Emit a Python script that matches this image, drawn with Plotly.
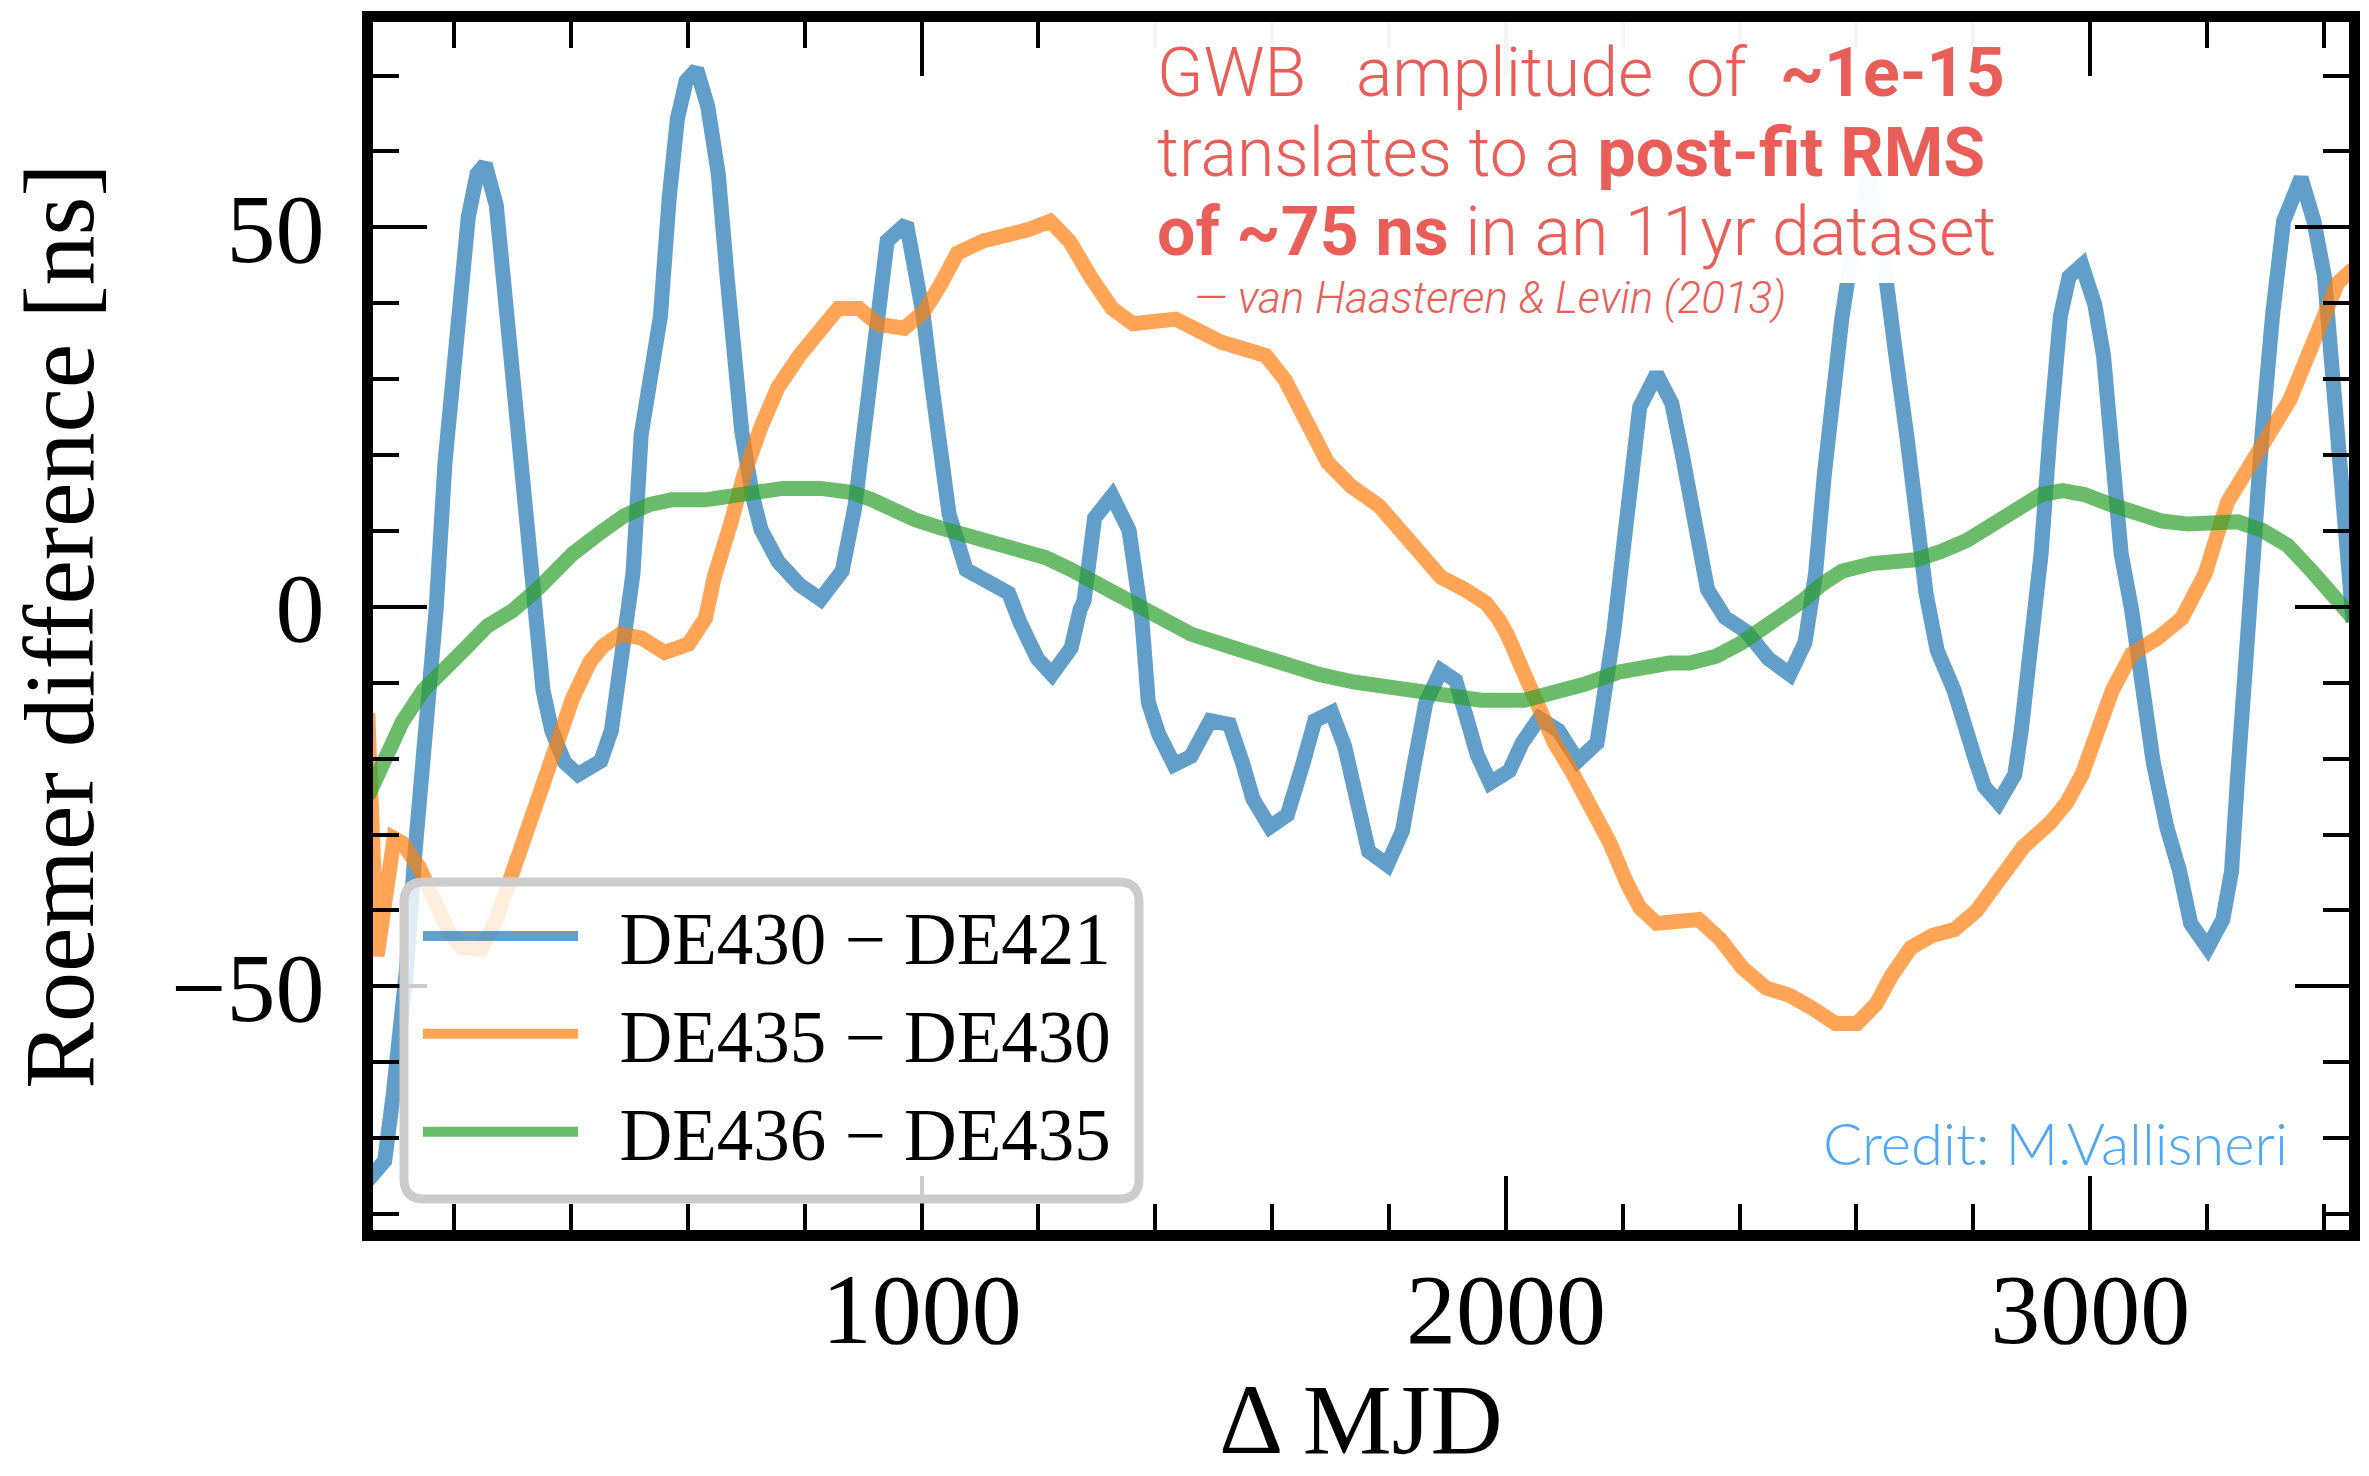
import plotly.graph_objects as go

# ---------------- data ----------------
blue_x = [52, 81, 96, 118, 133, 147, 158, 169, 184, 200, 213, 224, 239, 253, 272, 286, 301, 323, 336,
          352, 367, 389, 412, 451, 469, 484, 498, 506, 520, 542, 553, 568, 582, 597, 615, 634, 652, 667,
          681, 692, 710, 725, 754, 791, 827, 864, 886, 908, 926, 941, 974, 988, 1003, 1018, 1032, 1047,
          1076, 1113, 1149, 1168, 1198, 1223, 1256, 1271, 1278, 1296, 1326, 1355, 1377, 1388, 1406, 1432,
          1461, 1494, 1527, 1549, 1567, 1596, 1626, 1651, 1673, 1702, 1724, 1746, 1765, 1797, 1823, 1841,
          1863, 1889, 1914, 1933, 1951, 1973, 2006, 2028, 2057, 2090, 2123, 2156, 2171, 2185, 2200, 2214,
          2229, 2258, 2284, 2302, 2330, 2345, 2375, 2412, 2449, 2486, 2512, 2530, 2545, 2560, 2575, 2590,
          2606, 2621, 2636, 2650, 2665, 2686, 2701, 2719, 2738, 2767, 2805, 2819, 2843, 2871, 2882, 2894,
          2905, 2916, 2931, 2949, 2964, 2986, 3008, 3023, 3038, 3053, 3071, 3090, 3108, 3131, 3153, 3172,
          3201, 3227, 3242, 3253, 3264, 3279, 3294, 3312, 3331, 3361, 3383, 3401, 3420, 3435, 3450]
blue_y = [-75.6, -73, -64, -48, -32.2, -21.6, -8.4, -0.4, 18.8, 32, 43.5, 51.3, 57, 58.3, 52.9, 40.9, 30.5,
          12.2, 1, -11, -16.3, -20.5, -22.1, -20.3, -16.3, -8.4, -0.4, 4.4, 22.7, 34.1, 38.3, 53.9, 64.3,
          69.3, 70.8, 65.9, 57, 43.5, 33.1, 23.2, 14.8, 10.2, 6, 2.9, 1, 4.7, 13.3, 27.9, 40.9, 48.2, 50.5,
          44.5, 38.3, 28.9, 20, 12.2, 4.9, 3.4, 1.8, -2, -6.8, -8.9, -5.4, -0.4, 0.8, 11.7, 14.6, 10.1,
          -1.7, -12.6, -16.8, -20.8, -19.7, -15, -15.5, -20.5, -25.3, -29, -27.4, -21.1, -15, -13.9, -18.4,
          -25.8, -32.2, -34, -29.5, -21.6, -12.6, -8.4, -9.7, -14.7, -19.5, -23.2, -21.6, -17.9, -14.7,
          -16.3, -20.3, -17.9, -11, -3.1, 7, 17.4, 26.3, 30.7, 26.8, 20, 9.6, 2.3, -1.4, -3.3, -6.8, -8.9,
          -4.7, 4.4, 17.4, 30.5, 38, 45.5, 53, 57, 52, 42.5, 34.5, 22.6, 12.2, 1.8, -5.7, -11, -20.5,
          -23.7, -25.8, -22.1, -16.3, -8.4, -0.4, 7, 22.6, 38.3, 43.5, 45, 39.8, 33, 20, 7, -0.4, -11,
          -20.5, -29, -34.8, -41.7, -44.9, -41.2, -34.8, -21.6, -8.4, 7, 22.6, 38.3, 50.8, 56.5, 50.8,
          43.5, 27.9, 12.2, -2]

orange_x = [52, 68, 97, 111, 140, 165, 191, 213, 246, 272, 294, 316, 345, 374, 403, 432, 454, 484, 520,
            560, 601, 630, 645, 674, 696, 725, 754, 791, 824, 857, 893, 926, 970, 1003, 1032, 1061, 1105,
            1149, 1183, 1220, 1253, 1289, 1326, 1362, 1435, 1512, 1549, 1589, 1622, 1659, 1695, 1735, 1783,
            1819, 1856, 1889, 1929, 1966, 1988, 2002, 2032, 2054, 2083, 2112, 2149, 2178, 2207, 2229, 2258,
            2315, 2330, 2367, 2404, 2445, 2486, 2523, 2564, 2601, 2634, 2660, 2693, 2730, 2768, 2805, 2849,
            2886, 2931, 2960, 2986, 3012, 3038, 3071, 3116, 3157, 3197, 3235, 3272, 3309, 3342, 3372, 3398,
            3424, 3450]
orange_y = [-14, -46, -30.5, -31.1, -34.3, -38.5, -42.8, -44.9, -45.1, -41.2, -36.4, -31.1, -24.2, -17.9,
            -12, -7.3, -5.2, -3.6, -4.1, -6, -4.9, -1.5, 3.9, 11.2, 17.4, 23.7, 28.9, 33.1, 36.2, 39.3,
            39.3, 37.2, 36.7, 38.8, 42.4, 46.6, 48.2, 49, 49.7, 50.8, 48.2, 43.5, 39.3, 37.3, 37.9, 34.9,
            34.2, 33.1, 29.9, 24.2, 19, 15.9, 13.3, 10.1, 6.5, 3.9, 2.3, 0.5, -1.7, -3.6, -8.9, -13.1,
            -17.9, -21.6, -26.4, -31.1, -36.4, -39.6, -41.7, -41.4, -41.2, -43.8, -47.5, -50.2, -51.2,
            -52.8, -54.9, -54.9, -52.3, -48.6, -44.9, -43.3, -42.5, -40.1, -35.4, -31.6, -28.5, -25.8,
            -22.1, -16.8, -11, -6.2, -4.1, -1.5, 4.4, 13.8, 18.5, 22.6, 27.3, 33, 38.3, 42.7, 44.5]

green_x = [52, 60, 81, 111, 147, 184, 220, 257, 300, 345, 403, 447, 491, 535, 572, 630, 674, 718, 762,
           827, 879, 915, 959, 988, 1032, 1076, 1135, 1184, 1212, 1256, 1300, 1344, 1388, 1461, 1534, 1607,
           1680, 1739, 1827, 1900, 1958, 2032, 2083, 2134, 2193, 2236, 2280, 2315, 2360, 2404, 2449, 2493,
           2508, 2538, 2575, 2627, 2701, 2745, 2790, 2834, 2879, 2916, 2953, 2990, 3034, 3079, 3123, 3168,
           3205, 3253, 3294, 3338, 3383, 3427, 3450]
green_y = [-25, -23.7, -19.5, -15.2, -11, -7.8, -5.4, -2.5, -0.5, 2.5, 7, 9.6, 12, 13.5, 14.1, 14.1, 14.6,
           15.1, 15.6, 15.6, 15.1, 14.1, 12.5, 11.5, 10.4, 9.4, 8.3, 7, 6.5, 4.9, 3.1, 1, -1, -3.6, -5.4,
           -7.3, -8.9, -9.9, -11, -11.8, -12.3, -12.3, -11.5, -10.2, -8.6, -7.8, -7.4, -7.4, -6.5, -4.7,
           -2.5, -0.2, 0.8, 2.8, 4.7, 5.7, 6.2, 7.3, 8.8, 10.9, 13.2, 14.8, 15.3, 14.8, 13.5, 12.2, 11.3,
           10.9, 10.9, 11.2, 10.1, 8.1, 4.4, 0.2, -1.5]

series_names = ["DE430 \u2212 DE421", "DE435 \u2212 DE430", "DE436 \u2212 DE435"]
x_tick_vals = [1000, 2000, 3000]
x_tick_text = ["1000", "2000", "3000"]
y_tick_vals = [-50, 0, 50]
y_tick_text = ["\u221250", "0", "50"]

# ---------------- layout geometry (pixels) ----------------
W, H = 2369, 1476
PL, PR, PT, PB = 373, 2349, 22, 1230   # inner plot-area edges


def pxx(x):
    return (x - PL) / (PR - PL)


def pxy(y):
    return (PB - y) / (PB - PT)


SERIF = "Liberation Serif"
RED = "#e95e58"
NB = "\u00a0"

fig = go.Figure()
colors = ["#1f77b4", "#ff7f0e", "#2ca02c"]
for xs, ys, name, c in zip([blue_x, orange_x, green_x], [blue_y, orange_y, green_y], series_names, colors):
    fig.add_trace(go.Scatter(x=xs, y=ys, mode="lines", name=NB + NB + name,
                             line=dict(color=c, width=15), opacity=0.7))

axis_common = dict(showline=True, linewidth=11, linecolor="black", mirror="allticks",
                   ticks="inside", ticklen=54, tickwidth=4, tickcolor="black",
                   showgrid=False, zeroline=False, automargin=False)

fig.update_xaxes(range=[61, 3443], tickvals=x_tick_vals, ticktext=x_tick_text,
                 tickfont=dict(family=SERIF, size=100, color="black"), ticklabelstandoff=-18,
                 minor=dict(dtick=200, tick0=0, ticks="inside", ticklen=26, tickwidth=4, tickcolor="black"),
                 **axis_common)
fig.update_yaxes(range=[-82.1, 77.05], tickvals=y_tick_vals, ticktext=y_tick_text,
                 tickfont=dict(family=SERIF, size=98, color="black"), ticklabelstandoff=18,
                 minor=dict(dtick=10, tick0=0, ticks="inside", ticklen=26, tickwidth=4, tickcolor="black"),
                 title=dict(text="Roemer difference [ns]", font=dict(family=SERIF, size=100, color="black"),
                            standoff=49),
                 **axis_common)

# legend box with rounded corners (drawn as a shape below the legend text)
lx0, ly0, lx1, ly1, rad = 404, 882, 1139, 1199, 20
X0, X1 = pxx(lx0), pxx(lx1)
Y0, Y1 = pxy(ly0), pxy(ly1)
rx = rad / (PR - PL)
ry = rad / (PB - PT)
path = (f"M {X0 + rx},{Y0} L {X1 - rx},{Y0} Q {X1},{Y0} {X1},{Y0 - ry} "
        f"L {X1},{Y1 + ry} Q {X1},{Y1} {X1 - rx},{Y1} L {X0 + rx},{Y1} Q {X0},{Y1} {X0},{Y1 + ry} "
        f"L {X0},{Y0 - ry} Q {X0},{Y0} {X0 + rx},{Y0} Z")
shapes = [
    dict(type="path", xref="paper", yref="paper", path=path, layer="above",
         fillcolor="rgba(255,255,255,0.8)", line=dict(color="rgba(204,204,204,1)", width=9)),
    # white block behind the quotation
    dict(type="rect", xref="paper", yref="paper", x0=pxx(1140), x1=pxx(2006), y0=pxy(283), y1=1.0,
         layer="above", fillcolor="rgba(255,255,255,0.96)", line=dict(width=0)),
]

quote_font = dict(family="Roboto, Open Sans, sans-serif", size=68, color=RED, weight=300)
annotations = [
    dict(text=f"GWB{NB}{NB}{NB}amplitude{NB}{NB}of{NB}{NB}<b>~1e-15</b>", x=pxx(1155), y=pxy(73),
         xanchor="left", yanchor="middle"),
    dict(text="translates to a <b>post-fit RMS</b>", x=pxx(1155), y=pxy(153),
         xanchor="left", yanchor="middle"),
    dict(text="<b>of ~75 ns</b> in an 11yr dataset", x=pxx(1155), y=pxy(232),
         xanchor="left", yanchor="middle"),
]
for a in annotations:
    a.update(xref="paper", yref="paper", showarrow=False, font=quote_font)
annotations.append(dict(text="<i>\u2014 van Haasteren &amp; Levin (2013)</i>", x=pxx(1788), y=pxy(298),
                        xref="paper", yref="paper", xanchor="right", yanchor="middle", showarrow=False,
                        font=dict(family="Roboto, Open Sans, sans-serif", size=44, color=RED, weight=300)))
annotations.append(dict(text="Credit: M.Vallisneri", x=pxx(1821), y=pxy(1142),
                        xref="paper", yref="paper", xanchor="left", yanchor="middle", showarrow=False,
                        font=dict(family="Lato, Open Sans, sans-serif", size=58, color="#4ea7f5", weight=300)))
# x-axis title (placed as text so it can sit as low as in the reference)
annotations.append(dict(text="\u0394 MJD", x=0.5, y=pxy(1419), xref="paper", yref="paper",
                        xanchor="center", yanchor="middle", showarrow=False,
                        font=dict(family=SERIF, size=100, color="black")))

fig.update_layout(
    width=W, height=H, autosize=False,
    margin=dict(l=PL, r=W - PR, t=PT, b=H - PB, pad=0),
    paper_bgcolor="white", plot_bgcolor="white",
    showlegend=True,
    legend=dict(x=pxx(418), y=pxy(882), xanchor="left", yanchor="top",
                bgcolor="rgba(0,0,0,0)", borderwidth=0, itemwidth=155, tracegroupgap=0,
                font=dict(family=SERIF, size=73, color="black")),
    shapes=shapes,
    annotations=annotations,
)

fig.write_html("out.html")
